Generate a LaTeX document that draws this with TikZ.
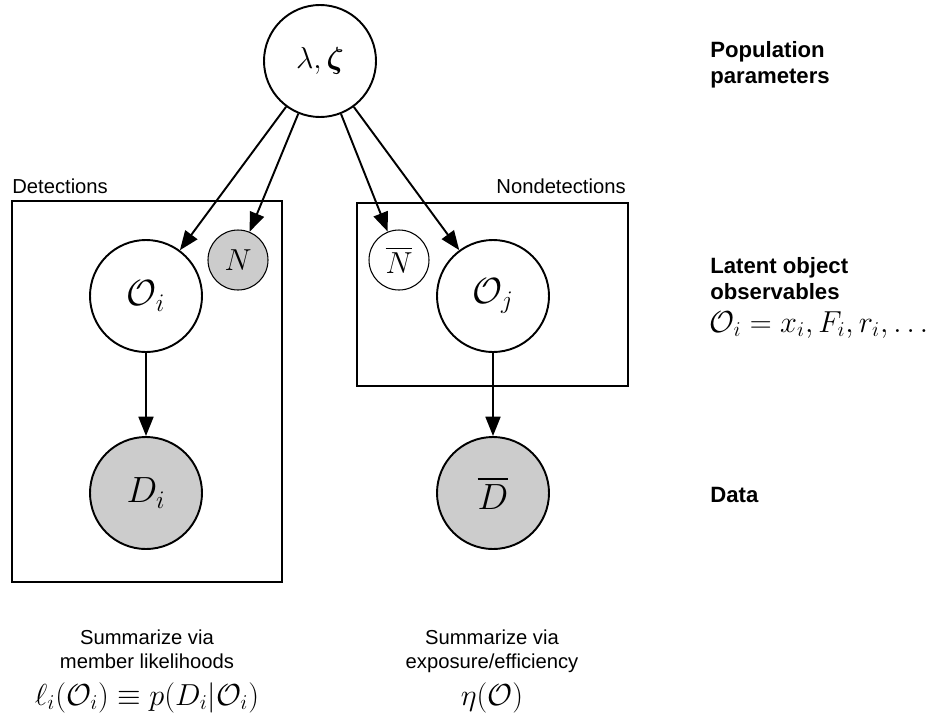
\documentclass[tikz,border=0pt]{standalone}
\usepackage{amsmath}
\usepackage{fontspec}
\usetikzlibrary{arrows.meta}
\newfontfamily\labelfont{Liberation Sans}

\newcommand{\mathbig}{\fontsize{17.8}{20}\selectfont}
\newcommand{\mathnode}{\fontsize{20}{22}\selectfont}
\newcommand{\labelsmall}{\labelfont\fontsize{11.5}{14.2}\selectfont}
\newcommand{\labelbold}{\labelfont\bfseries\fontsize{12.6}{14.7}\selectfont}

\begin{document}
\begin{tikzpicture}[x=0.2mm, y=-0.2mm]

\tikzstyle{latent} = [circle, draw, line width=1.1pt, minimum size=2.24cm, inner sep=0pt, font=\mathnode]
\tikzstyle{observed} = [latent, fill=gray!40]
\tikzstyle{count} = [circle, draw, line width=0.6pt, minimum size=1.2cm, inner sep=0pt, font=\fontsize{17}{19}\selectfont]
\tikzstyle{plate} = [rectangle, draw, line width=1.1pt, inner sep=0pt]
\tikzstyle{edge} = [line width=1.1pt, -{Triangle[length=11pt, width=8.5pt]}]

\useasboundingbox (0,0) rectangle (935,721);

\node[latent, font=\fontsize{18.5}{20}\selectfont] (pop) at (320,61) {$\lambda, \boldsymbol{\zeta}$};

% detections
\node[plate, minimum width=5.4cm, minimum height=7.62cm] (detplate) at (147,391.5) {};
\node[anchor=base west, inner sep=0pt, font=\labelsmall] (detlabel) at (12,193) {Detections};
\node[latent] (Oi) at (146,296) {$\mathcal{O}_i$};
\node[count, fill=gray!40] (N) at (238,260) {$N$};
\node[observed] (Di) at (146,493) {$D_i$};

% nondetections
\node[plate, minimum width=5.42cm, minimum height=3.66cm] (nondetplate) at (492.5,294.5) {};
\node[anchor=base east, inner sep=0pt, font=\labelsmall] (nondetlabel) at (626,193) {Nondetections};
\node[count] (Nbar) at (399,260) {$\overline{N}$};
\node[latent] (Oj) at (493,296) {$\mathcal{O}_j$};
\node[observed] (Dbar) at (493,493) {$\overline{D}$};

\draw[edge] (pop) -- (Oi);
\draw[edge] (pop) -- (N);
\draw[edge] (pop) -- (Nbar);
\draw[edge] (pop) -- (Oj);
\draw[edge] (Oi) -- (Di);
\draw[edge] (Oj) -- (Dbar);

% level labels
\node[anchor=north west, align=left, inner sep=0pt, font=\labelbold] (poplabel) at (710,41) {Population\\parameters};
\node[anchor=north west, align=left, inner sep=0pt, font=\labelbold] (latentlabel) at (710,257) {Latent object\\observables};
\node[anchor=base west, inner sep=0pt, font=\mathbig] (latentmath) at (709,332) {$\mathcal{O}_i = x_i, F_i, r_i, \ldots$};
\node[anchor=base west, inner sep=0pt, font=\labelbold] (datalabel) at (710,502) {Data};

% summaries
\node[anchor=north, align=center, inner sep=0pt, font=\labelsmall] (detsum) at (147,629) {Summarize via\\member likelihoods};
\node[anchor=base, inner sep=0pt, font=\fontsize{18.6}{21}\selectfont] (detmath) at (147,705) {$\ell_i(\mathcal{O}_i) \equiv p(D_i|\mathcal{O}_i)$};
\node[anchor=north, align=center, inner sep=0pt, font=\labelsmall] (nondetsum) at (492,629) {Summarize via\\exposure/efficiency};
\node[anchor=base, inner sep=0pt, font=\fontsize{18.6}{21}\selectfont] (nondetmath) at (492,705) {$\eta(\mathcal{O})$};

\end{tikzpicture}
\end{document}
